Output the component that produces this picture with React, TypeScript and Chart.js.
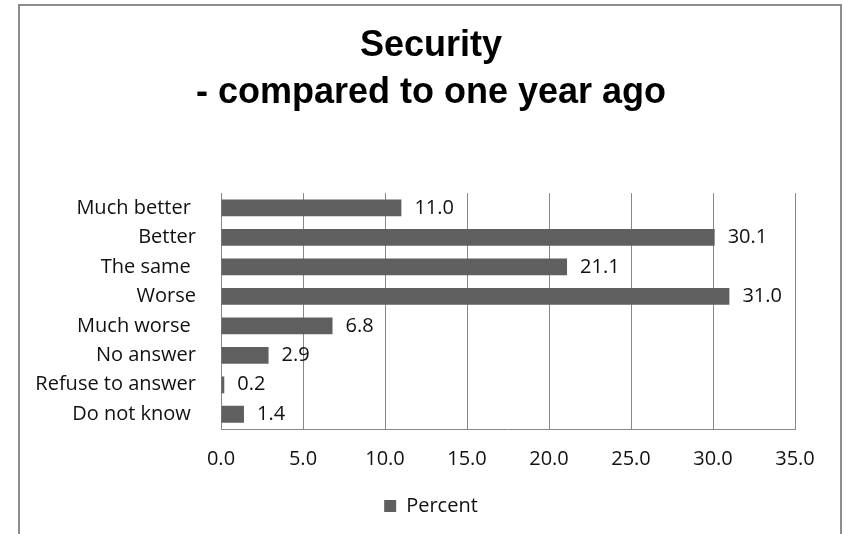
import React, { useEffect, useRef } from "react";
import { Chart, registerables } from "chart.js";

Chart.register(...registerables);

const titleLines = ["Security", "- compared to one year ago"];
const categories = [
  "Much better ",
  "Better",
  "The same ",
  "Worse",
  "Much worse ",
  "No answer",
  "Refuse to answer",
  "Do not know ",
];
const percentValues = [11.0, 30.1, 21.1, 31.0, 6.8, 2.9, 0.2, 1.4];
const seriesName = "Percent";
const xMin = 0;
const xMax = 35;
const xStep = 5;

const FONT = "'Open Sans', sans-serif";
const FONT_SIZE = 20;
const BAR_COLOR = "#5f5f5f";
const GRID_COLOR = "#878787";
const TEXT_COLOR = "#111111";

const valueLabelPlugin = {
  id: "valueLabels",
  afterDatasetsDraw(chart: any) {
    const ctx = chart.ctx;
    ctx.save();
    ctx.font = `${FONT_SIZE}px ${FONT}`;
    ctx.fillStyle = TEXT_COLOR;
    ctx.textAlign = "left";
    ctx.textBaseline = "middle";
    chart.data.datasets.forEach((ds: any, di: number) => {
      const meta = chart.getDatasetMeta(di);
      meta.data.forEach((el: any, i: number) => {
        const v = ds.data[i] as number;
        ctx.fillText(v.toFixed(1), el.x + 13, el.y);
      });
    });
    ctx.restore();
  },
};

export default function App() {
  const ref = useRef<HTMLCanvasElement | null>(null);

  useEffect(() => {
    if (!ref.current) return;
    const chart = new Chart(ref.current, {
      type: "bar",
      data: {
        labels: categories,
        datasets: [
          {
            label: seriesName,
            data: percentValues,
            backgroundColor: BAR_COLOR,
            borderWidth: 0,
            barPercentage: 0.57,
            categoryPercentage: 1,
            xAxisID: "x",
            yAxisID: "y",
          },
        ],
      },
      options: {
        indexAxis: "y",
        responsive: false,
        animation: false,
        layout: { padding: { top: 10, bottom: 8, left: 18, right: 0 } },
        plugins: {
          title: {
            display: true,
            text: titleLines,
            color: "#000",
            font: { family: "'Liberation Sans', Arial, sans-serif", size: 36, weight: "bold", lineHeight: 1.28 },
            padding: { top: 13.5, bottom: 77.5 },
          },
          legend: {
            display: true,
            position: "bottom",
            labels: {
              boxWidth: 12,
              boxHeight: 12,
              color: TEXT_COLOR,
              font: { family: FONT, size: FONT_SIZE },
              padding: 10,
            },
          },
          tooltip: { enabled: false },
        },
        scales: {
          x: {
            min: xMin,
            max: xMax,
            ticks: {
              stepSize: xStep,
              color: TEXT_COLOR,
              font: { family: FONT, size: FONT_SIZE },
              padding: 18,
              callback: (v: any) => Number(v).toFixed(1),
            },
            grid: { color: GRID_COLOR, drawTicks: false, lineWidth: 1 },
            border: { display: true, color: GRID_COLOR },
            afterFit: (s: any) => {
              s.height = 57;
            },
          },
          y: {
            position: "left",
            ticks: {
              color: TEXT_COLOR,
              font: { family: FONT, size: FONT_SIZE },
              padding: 25,
            },
            grid: { display: true, color: "rgba(0,0,0,0)", drawTicks: false },
            border: { display: true, color: GRID_COLOR },
            afterFit: (s: any) => {
              s.width = 203;
            },
          },
          ySpacer: {
            type: "linear",
            axis: "y",
            position: "right",
            display: true,
            ticks: { display: false },
            grid: { display: false, drawTicks: false },
            border: { display: false },
            afterFit: (s: any) => {
              s.width = 49;
            },
          },
        },
      },
      plugins: [valueLabelPlugin],
    });
    return () => chart.destroy();
  }, []);

  return (
    <div style={{ position: "absolute", left: 0, top: 0, width: 844, height: 534, background: "#fff", overflow: "hidden" }}>
      <canvas ref={ref} width={844} height={534} style={{ position: "absolute", left: 0, top: 0, width: 844, height: 534 }} />
      <div
        style={{
          position: "absolute",
          left: 18,
          top: 4,
          width: 820,
          height: 600,
          border: "2px solid #8c8c8c",
          pointerEvents: "none",
        }}
      />
    </div>
  );
}
